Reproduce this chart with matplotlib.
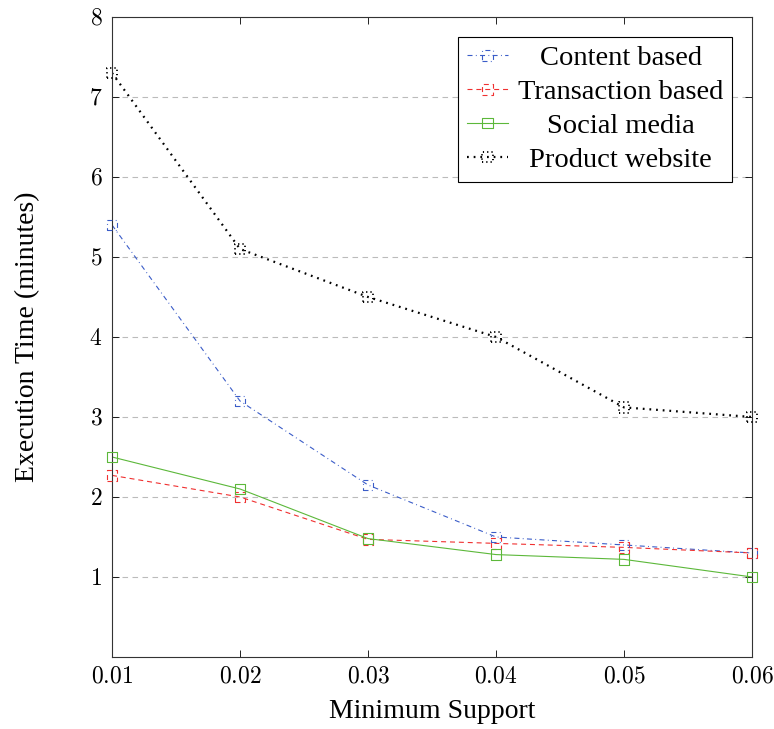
import matplotlib.pyplot as plt
from matplotlib.ticker import FuncFormatter
from matplotlib.transforms import Affine2D

# data
min_support = [0.01, 0.02, 0.03, 0.04, 0.05, 0.06]
content_based = [5.4, 3.2, 2.15, 1.5, 1.4, 1.3]
transaction_based = [2.27, 2.0, 1.47, 1.42, 1.37, 1.3]
social_media = [2.5, 2.1, 1.48, 1.28, 1.22, 1.0]
product_website = [7.3, 5.1, 4.5, 4.0, 3.12, 3.0]
y_ticks = [1, 2, 3, 4, 5, 6, 7, 8]

plt.rcParams['font.family'] = ['Liberation Serif', 'DejaVu Serif']
plt.rcParams['mathtext.fontset'] = 'cm'

fig = plt.figure(figsize=(7.74, 7.29), dpi=100)
ax = fig.add_axes([0.1447, 0.0988, 0.8269, 0.8779])

series = [
    (content_based, 'Content based', '#3a5cc8', (0, (4.5, 3, 0.8, 3)), 0.8),
    (transaction_based, 'Transaction based', '#f03030', (0, (4.5, 3.5)), 0.8),
    (social_media, 'Social media', '#5cb83a', '-', 0.8),
    (product_website, 'Product website', 'black', (0, (0.8, 2.2)), 1.6),
]

handles = []
for vals, name, col, ls, lw in series:
    ln, = ax.plot(min_support, vals, color=col, linestyle=ls, lw=lw)
    # markers drawn with the same dash pattern as the line
    mk_ls = ls if lw < 1 else (0, (0.6, 1.6))
    sc = ax.scatter(min_support, vals, marker='s', s=56, facecolors='none',
                    edgecolors=col, linewidths=0.8 if lw < 1 else 1.4,
                    linestyles=mk_ls, zorder=3, clip_on=False)
    handles.append((ln, sc))

ax.set_xlim(0.01, 0.06)
ax.set_ylim(0, 8)
ax.set_xticks(min_support)
ax.set_yticks(y_ticks)
ax.xaxis.set_major_formatter(FuncFormatter(lambda v, p: f'${v:.2f}$'))
ax.yaxis.set_major_formatter(FuncFormatter(lambda v, p: f'${v:.0f}$'))
ax.tick_params(direction='in', length=5, width=0.6, labelsize=17, top=True, right=True, pad=7)
ax.grid(axis='y', color='#bbbbbb', linestyle=(0, (5, 4)), lw=0.8)
for s in ax.spines.values():
    s.set_linewidth(0.8)
    s.set_color('#333333')

ax.set_xlabel('Minimum Support', fontsize=20, labelpad=8)
ax.set_ylabel('Execution Time (minutes)', fontsize=20, labelpad=35)

leg = ax.legend(handles, [s[1] for s in series], loc='upper right', fontsize=20.5,
                fancybox=False, edgecolor='black', framealpha=1, borderaxespad=0.7,
                handlelength=1.45, labelspacing=0.28, borderpad=0.3,
                handletextpad=0.35, scatterpoints=1, scatteryoffsets=[0.5])
leg.get_frame().set_linewidth(0.8)

# centre the legend texts like pgfplots does
fig.canvas.draw()
texts = leg.get_texts()
widths = [t.get_window_extent().width for t in texts]
maxw = max(widths)
for t, w in zip(texts, widths):
    t.set_transform(t.get_transform() + Affine2D().translate((maxw - w) / 2, 0))

fig.savefig('out.png', dpi=100)
